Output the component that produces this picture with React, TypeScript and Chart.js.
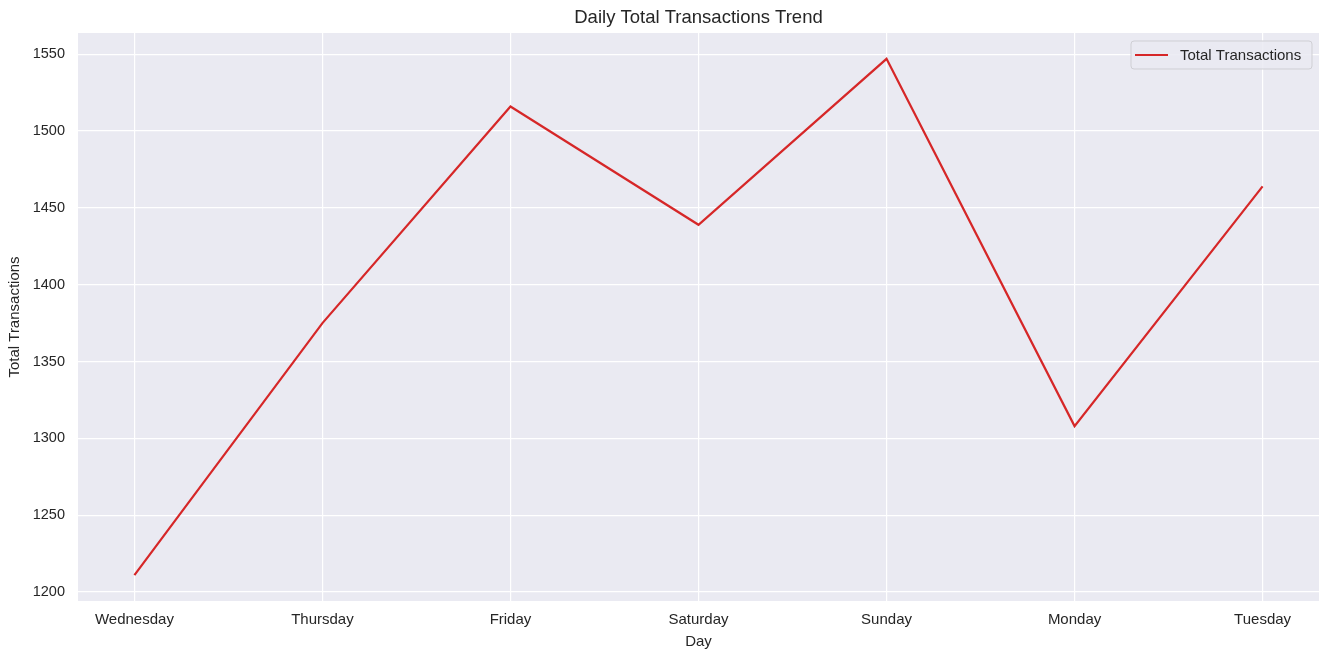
import React, { useEffect, useRef } from "react";
import { Chart, registerables } from "chart.js";

Chart.register(...registerables);

const days = ["Wednesday", "Thursday", "Friday", "Saturday", "Sunday", "Monday", "Tuesday"];
const totals = [1211, 1375, 1516, 1439, 1547, 1308, 1464];
const yTicks = [1200, 1250, 1300, 1350, 1400, 1450, 1500, 1550];
const seriesLabel = "Total Transactions";
const chartTitle = "Daily Total Transactions Trend";
const xTitle = "Day";
const yTitle = "Total Transactions";

const FONT = "'Liberation Sans', Arial, sans-serif";
const TEXT = "#262626";
const LINE = "#d62728";

export default function App() {
  const ref = useRef<HTMLCanvasElement | null>(null);

  useEffect(() => {
    if (!ref.current) return;
    const minV = Math.min(...totals);
    const maxV = Math.max(...totals);
    const pad = (maxV - minV) * 0.05;
    const xPad = (days.length - 1) * 0.05;

    const bgPlugin = {
      id: "bg",
      beforeDraw(chart: any) {
        const { ctx, chartArea } = chart;
        ctx.save();
        ctx.fillStyle = "#EAEAF2";
        ctx.fillRect(chartArea.left, chartArea.top, chartArea.right - chartArea.left, chartArea.bottom - chartArea.top);
        ctx.restore();
      },
    };

    const titlePlugin = {
      id: "centeredTitle",
      afterDraw(chart: any) {
        const { ctx, chartArea } = chart;
        ctx.save();
        ctx.fillStyle = TEXT;
        ctx.font = `18.5px ${FONT}`;
        ctx.textAlign = "center";
        ctx.textBaseline = "middle";
        ctx.fillText(chartTitle, (chartArea.left + chartArea.right) / 2, 17.5);
        ctx.restore();
      },
    };

    const legendPlugin = {
      id: "customLegend",
      afterDraw(chart: any) {
        const { ctx, chartArea } = chart;
        const x0 = chartArea.right - 188;
        const y0 = chartArea.top + 8;
        const w = 181;
        const h = 28;
        ctx.save();
        ctx.beginPath();
        const r = 3;
        ctx.moveTo(x0 + r, y0);
        ctx.lineTo(x0 + w - r, y0);
        ctx.arcTo(x0 + w, y0, x0 + w, y0 + r, r);
        ctx.lineTo(x0 + w, y0 + h - r);
        ctx.arcTo(x0 + w, y0 + h, x0 + w - r, y0 + h, r);
        ctx.lineTo(x0 + r, y0 + h);
        ctx.arcTo(x0, y0 + h, x0, y0 + h - r, r);
        ctx.lineTo(x0, y0 + r);
        ctx.arcTo(x0, y0, x0 + r, y0, r);
        ctx.closePath();
        ctx.fillStyle = "rgba(234,234,242,0.85)";
        ctx.fill();
        ctx.strokeStyle = "#cfcfd4";
        ctx.lineWidth = 1;
        ctx.stroke();
        ctx.beginPath();
        ctx.moveTo(x0 + 4, y0 + h / 2);
        ctx.lineTo(x0 + 37, y0 + h / 2);
        ctx.strokeStyle = LINE;
        ctx.lineWidth = 2;
        ctx.stroke();
        ctx.fillStyle = TEXT;
        ctx.font = `15px ${FONT}`;
        ctx.textBaseline = "middle";
        ctx.textAlign = "left";
        ctx.fillText(seriesLabel, x0 + 49, y0 + h / 2 + 0.5);
        ctx.restore();
      },
    };

    const chart = new Chart(ref.current, {
      type: "line",
      data: {
        datasets: [
          {
            label: seriesLabel,
            data: totals.map((v, i) => ({ x: i, y: v })),
            borderColor: LINE,
            backgroundColor: LINE,
            borderWidth: 2.2,
            pointRadius: 0,
            tension: 0,
          },
        ],
      },
      options: {
        animation: false,
        responsive: true,
        maintainAspectRatio: false,
        layout: { padding: { top: 33, left: 0, right: 0, bottom: 0 } },
        plugins: {
          legend: { display: false },
          tooltip: { enabled: false },
          title: { display: false },
        },
        scales: {
          x: {
            type: "linear",
            min: -xPad,
            max: days.length - 1 + xPad,
            afterBuildTicks(scale: any) {
              scale.ticks = days.map((_, i) => ({ value: i }));
            },
            afterFit(scale: any) {
              scale.height = 50;
            },
            ticks: {
              color: TEXT,
              font: { family: FONT, size: 15 },
              padding: 10,
              autoSkip: false,
              maxRotation: 0,
              callback: (v: any) => days[v as number] ?? "",
            },
            grid: { color: "#ffffff", lineWidth: 1.2, drawTicks: false },
            border: { display: false },
            title: {
              display: true,
              text: xTitle,
              color: TEXT,
              font: { family: FONT, size: 15 },
              padding: { top: 0, bottom: 0 },
            },
          },
          y: {
            type: "linear",
            min: minV - pad,
            max: maxV + pad,
            afterBuildTicks(scale: any) {
              scale.ticks = yTicks.map((v) => ({ value: v }));
            },
            afterFit(scale: any) {
              scale.width = 78;
            },
            ticks: {
              color: TEXT,
              font: { family: FONT, size: 14.5 },
              padding: 13,
              callback: (v: any) => String(v),
            },
            grid: { color: "#ffffff", lineWidth: 1.2, drawTicks: false },
            border: { display: false },
            title: {
              display: true,
              text: yTitle,
              color: TEXT,
              font: { family: FONT, size: 15 },
              padding: { top: 6, bottom: 0 },
            },
          },
        },
      } as any,
      plugins: [bgPlugin, legendPlugin, titlePlugin],
    });
    return () => chart.destroy();
  }, []);

  return (
    <div style={{ position: "fixed", left: 0, top: 0, width: 1319, height: 651, background: "#fff" }}>
      <canvas ref={ref} />
    </div>
  );
}
